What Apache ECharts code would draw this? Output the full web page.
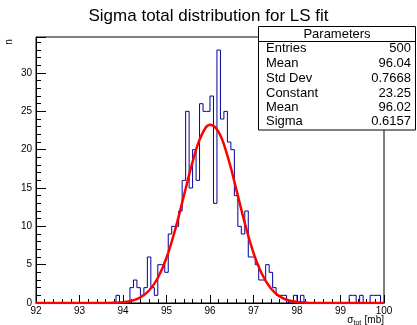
<!DOCTYPE html>
<html>
<head>
<meta charset="utf-8">
<script src="https://cdn.jsdelivr.net/npm/echarts@6/dist/echarts.min.js"></script>
<style>
  html, body { margin: 0; padding: 0; background: #fff; }
  #sigma { width: 417px; height: 325px; }
</style>
</head>
<body>
<div id="sigma"></div>
<script>
// histogram: 100 bins between 92 and 100
const xMin = 92;
const xMax = 100;
const binWidth = 0.08;
const counts = [
  0, 0, 0, 0, 0, 0, 0, 0, 0, 0,
  0, 0, 0, 0, 0, 0, 0, 0, 0, 0,
  0, 0, 0, 1, 0, 0, 0, 2, 3, 2,
  1, 2, 6, 2, 1, 5, 5, 4, 9, 10,
  10, 12, 16, 25, 15, 20, 16, 26, 25, 25,
  27, 13, 33, 24, 25, 21, 20, 14, 10, 9,
  12, 6, 6, 5, 3, 3, 5, 4, 2, 1,
  1, 1, 0, 0, 1, 0, 1, 0, 0, 0,
  0, 0, 0, 0, 0, 0, 0, 0, 0, 0,
  1, 1, 0, 1, 0, 0, 1, 1, 1, 0,
];

// gaus fit curve
const fitX = [92, 93.2, 93.6, 93.8, 94.0, 94.2, 94.4, 94.6, 94.8, 95.0, 95.2, 95.4, 95.6, 95.8,
  96.0, 96.2, 96.4, 96.6, 96.8, 97.0, 97.2, 97.4, 97.6, 97.8, 98.0, 98.2, 98.4, 98.8, 100];
const fitY = [0, 0, 0.01, 0.035, 0.107, 0.294, 0.73, 1.63, 3.26, 5.9, 9.58, 14.0, 18.42, 21.81,
  23.24, 22.28, 19.22, 14.92, 10.42, 6.55, 3.71, 1.89, 0.864, 0.356, 0.132, 0.044, 0.013, 0, 0];

const statLabels = ["Entries", "Mean", "Std Dev", "Constant", "Mean", "Sigma"];
const statValues = ["500", "96.04", "0.7668", "23.25", "96.02", "0.6157"];

const font = "'Liberation Sans', Arial, Helvetica, sans-serif";

const histData = counts.map((c, i) => [xMin + binWidth * i, c]);
histData.push([xMax, counts[counts.length - 1]]);
const fitData = fitX.map((x, i) => [x, fitY[i]]);

const rowY = [48, 63.5, 78, 93, 107.5, 121];
const statsTexts = [];
statLabels.forEach((label, i) => {
  statsTexts.push({
    type: "text",
    style: { text: label, x: 266, y: rowY[i], font: "13px " + font, fill: "#000", textVerticalAlign: "middle" },
  });
  statsTexts.push({
    type: "text",
    style: { text: statValues[i], x: 411, y: rowY[i], font: "13px " + font, fill: "#000", textAlign: "right", textVerticalAlign: "middle" },
  });
});

const option = {
  animation: false,
  backgroundColor: "#fff",
  title: {
    text: "Sigma total distribution for LS fit",
    left: "center",
    top: 3,
    textStyle: { fontFamily: font, fontSize: 17, fontWeight: "normal", color: "#000" },
  },
  grid: {
    left: 36,
    right: 33,
    top: 37,
    bottom: 22,
    show: true,
    borderColor: "#000",
    borderWidth: 1,
    containLabel: false,
    outerBoundsMode: "none",
  },
  xAxis: {
    type: "value",
    min: xMin,
    max: xMax,
    interval: 1,
    axisLine: { lineStyle: { color: "#000", width: 1 } },
    axisTick: { inside: true, length: 8, lineStyle: { color: "#000" } },
    minorTick: { show: true, splitNumber: 5, length: 4, lineStyle: { color: "#000" } },
    axisLabel: { color: "#000", fontSize: 10, fontFamily: font, margin: 3 },
    splitLine: { show: false },
  },
  yAxis: {
    type: "value",
    min: 0,
    max: 34.7,
    interval: 5,
    axisLine: { show: true, lineStyle: { color: "#000", width: 1 } },
    axisTick: { show: true, inside: true, length: 10, lineStyle: { color: "#000" } },
    minorTick: { show: true, splitNumber: 5, length: 5, lineStyle: { color: "#000" } },
    axisLabel: { color: "#000", fontSize: 10, fontFamily: font, margin: 4, showMaxLabel: false },
    splitLine: { show: false },
  },
  series: [
    {
      name: "hist",
      type: "line",
      step: "end",
      symbol: "none",
      data: histData,
      lineStyle: { color: "#000099", width: 1 },
      z: 2,
    },
    {
      name: "fit",
      type: "line",
      smooth: 0.4,
      symbol: "none",
      data: fitData,
      lineStyle: { color: "#ff0000", width: 2.5 },
      z: 3,
    },
  ],
  graphic: [
    {
      type: "text",
      rotation: Math.PI / 2,
      x: 9,
      y: 42,
      style: { text: "n", font: "10px " + font, fill: "#000", textAlign: "center", textVerticalAlign: "middle" },
    },
    {
      type: "text",
      style: {
        text: "{s|σ}{t|tot} {s|[mb]}",
        x: 384,
        y: 320,
        textAlign: "right",
        textVerticalAlign: "middle",
        rich: {
          s: { fontSize: 10, fontFamily: font, fill: "#000" },
          t: { fontSize: 7, fontFamily: font, fill: "#000", padding: [6, 0, 0, 0] },
        },
      },
    },
    {
      type: "group",
      z: 100,
      children: [
        {
          type: "rect",
          shape: { x: 258.5, y: 26.5, width: 157, height: 103.5 },
          style: { fill: "#fff", stroke: "#000", lineWidth: 1 },
        },
        {
          type: "line",
          shape: { x1: 258.5, y1: 41.5, x2: 415.5, y2: 41.5 },
          style: { stroke: "#000", lineWidth: 1 },
        },
        {
          type: "text",
          style: { text: "Parameters", x: 337, y: 34, font: "13px " + font, fill: "#000", textAlign: "center", textVerticalAlign: "middle" },
        },
      ].concat(statsTexts),
    },
  ],
};

const chartDom = document.getElementById("sigma");
const myChart = echarts.init(chartDom);
myChart.setOption(option);
window.addEventListener("resize", () => {
  myChart.resize();
});
</script>
</body>
</html>
